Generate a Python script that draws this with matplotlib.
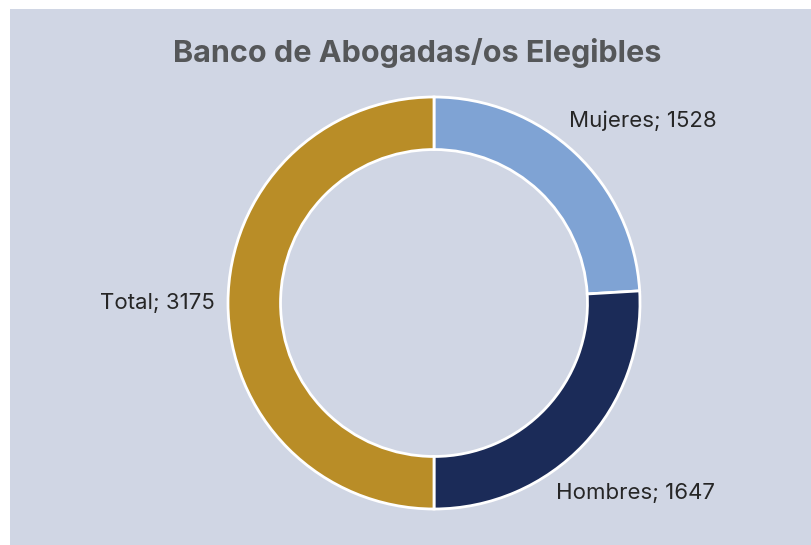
import numpy as np
import matplotlib.pyplot as plt
from matplotlib.patches import Rectangle

# data
labels = ["Mujeres", "Hombres", "Total"]
values = [1528, 1647, 3175]
colors = ["#7FA3D4", "#1B2B58", "#B98D27"]
title = "Banco de Abogadas/os Elegibles"

W, H = 812, 545
fig = plt.figure(figsize=(W / 100, H / 100), dpi=100)
fig.patch.set_facecolor("white")
fig.add_artist(Rectangle((10 / W, 0), 1 - 10 / W, 1 - 9 / H,
                         transform=fig.transFigure, facecolor="#D0D6E4",
                         edgecolor="none", zorder=0))

ax = fig.add_axes([0, 0, 1, 1])
ax.set_facecolor("none")

cx, cy, r = 434, H - 303, 206
wedges, texts = ax.pie(values, colors=colors, startangle=90, counterclock=False,
                       center=(cx, cy), radius=r,
                       labels=[f"{l}; {v}" for l, v in zip(labels, values)],
                       labeldistance=1.345,
                       wedgeprops=dict(width=r * 0.255, edgecolor="white", linewidth=2),
                       textprops=dict(fontsize=16, color="#262626", family="Inter"))
for t in texts:
    t.set_horizontalalignment("center")
    t.set_verticalalignment("center")

# first label sits a bit lower than the wedge's mid-angle
w = wedges[0]
ang = np.deg2rad((w.theta1 + w.theta2) / 2 - 5.5)
texts[0].set_position((cx + 1.345 * r * np.cos(ang), cy + 1.345 * r * np.sin(ang)))

ax.set_xlim(0, W)
ax.set_ylim(0, H)
ax.axis("off")

fig.text(417 / W, 1 - 53 / H, title, ha="center", va="center", fontsize=22,
         fontweight="bold", color="#555759", family="Inter")

fig.savefig("out.png", dpi=100)
